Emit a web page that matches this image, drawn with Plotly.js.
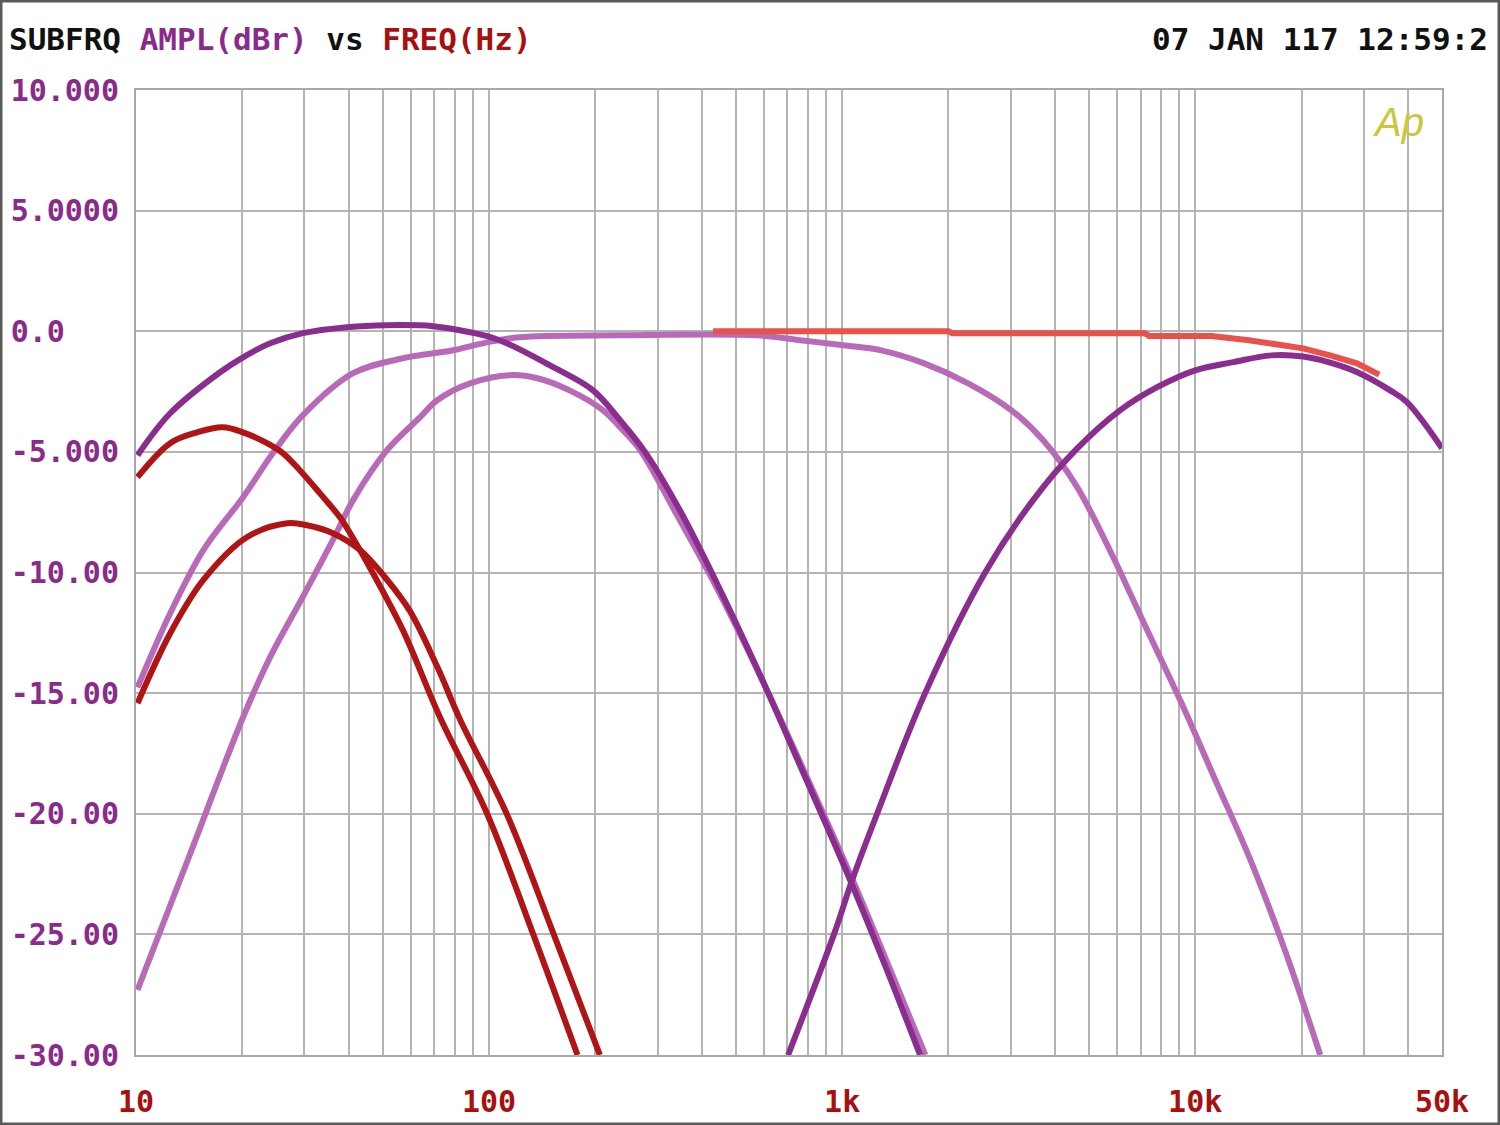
<!DOCTYPE html>
<html>
<head>
<meta charset="utf-8">
<script src="https://cdn.plot.ly/plotly-3.0.1.min.js"></script>
<style>
  html, body { margin: 0; padding: 0; background: #ffffff; }
  #chart { width: 1500px; height: 1125px; }
</style>
</head>
<body>
<div id="chart"></div>
<script>
// ---- Data (frequency in Hz, amplitude in dBr) ----
// Dark purple: wide band-pass (peak near 55 Hz)
const bandLowFreq = [10.1, 12.5, 17.3, 20.1, 24.0, 29.7, 39.6, 51.4, 69.4, 88.3, 107, 152, 197, 235, 277, 347, 437, 586, 760, 1054, 1324, 1663];
const bandLowAmpl = [-5.14, -3.40, -1.70, -1.08, -0.50, -0.08, 0.17, 0.25, 0.21, -0.04, -0.37, -1.49, -2.45, -3.69, -5.02, -7.42, -10.3, -14.26, -18.0, -22.76, -26.3, -30.0];

// Light orchid: narrow band-pass (peak near 120 Hz)
const bandMidFreq = [10.1, 14.2, 20.1, 24.0, 29.7, 36.1, 41.2, 51.4, 63.8, 71.3, 88.3, 115, 137, 169, 210, 235, 268, 340, 440, 600, 790, 1090, 1380, 1720];
const bandMidAmpl = [-27.3, -21.7, -16.0, -13.5, -11.0, -8.66, -7.0, -4.93, -3.56, -2.86, -2.16, -1.82, -1.95, -2.45, -3.27, -3.98, -4.93, -7.6, -10.6, -14.6, -18.4, -23.0, -26.6, -30.0];

// Light orchid: full range (high-pass at 10 Hz, low-pass near 2 kHz)
const fullFreq = [10.1, 12.5, 15.5, 20.1, 24.4, 29.7, 41.2, 57.0, 79.1, 98.6, 122, 235, 574, 760, 1007, 1290, 1707, 2274, 3011, 3710, 4603, 5740, 7210, 9070, 11400, 14320, 17990, 22600];
const fullAmpl = [-14.76, -11.69, -9.08, -6.88, -5.06, -3.48, -1.74, -1.12, -0.79, -0.46, -0.25, -0.17, -0.17, -0.37, -0.58, -0.79, -1.33, -2.16, -3.27, -4.52, -6.4, -9.1, -12.2, -15.3, -18.6, -21.9, -25.7, -30.0];

// Dark purple: high band (high-pass near 5 kHz)
const highFreq = [703, 948, 1067, 1256, 1718, 2541, 3475, 4603, 6095, 7803, 10000, 12820, 16420, 20220, 24100, 28770, 35650, 39840, 50000];
const highAmpl = [-30.0, -25.0, -22.76, -20.0, -15.0, -10.0, -7.0, -4.9, -3.3, -2.32, -1.62, -1.28, -1.0, -1.05, -1.3, -1.7, -2.45, -2.95, -4.85];

// Salmon red: reference (flat from 430 Hz)
const refFreq = [431, 2000, 2050, 7200, 7400, 11100, 14200, 17600, 20200, 24100, 28700, 33200];
const refAmpl = [0.0, 0.0, -0.08, -0.08, -0.2, -0.2, -0.37, -0.54, -0.71, -1.0, -1.33, -1.8];

// Dark red: subwoofer 1 (peak near 18 Hz)
const sub1Freq = [10.1, 12.5, 14.9, 17.6, 20.1, 23.5, 26.1, 29.1, 33.2, 37.8, 40.4, 46.9, 57.0, 72.6, 98.6, 133, 178];
const sub1Ampl = [-6.05, -4.64, -4.19, -3.98, -4.19, -4.64, -5.06, -5.76, -6.72, -7.71, -8.37, -10.03, -12.39, -16.0, -19.98, -24.95, -30.0];

// Dark red: subwoofer 2 (peak near 28 Hz)
const sub2Freq = [10.1, 12.5, 15.5, 20.6, 26.8, 30.5, 36.1, 43.2, 51.4, 59.7, 71.3, 82.8, 112, 152, 206];
const sub2Ampl = [-15.42, -12.52, -10.32, -8.54, -7.96, -8.04, -8.37, -9.08, -10.3, -11.6, -13.9, -16.1, -19.98, -24.95, -30.0];

// Axis ticks
const yTickVals = [10, 5, 0, -5, -10, -15, -20, -25, -30];
const yTickText = ['10.000', '5.0000', '0.0\u00a0\u00a0\u00a0', '-5.000', '-10.00', '-15.00', '-20.00', '-25.00', '-30.00'];
const xLabelVals = [10, 100, 1000, 10000, 50000];
const xLabelText = ['10', '100', '1k', '10k', '50k'];

// ---- Styling ----
const C_DPURPLE = '#8a2d8e';
const C_ORCHID = '#b86ab8';
const C_DRED = '#b01414';
const C_SALMON = '#e8524a';
const LW = 6;

// log grid positions 10..50k (1-9 per decade)
const xGridVals = [];
for (let d = 10; d <= 10000; d *= 10) {
  for (let m = 1; m <= 9; m++) xGridVals.push(d * m);
}
xGridVals.push(20000, 30000, 40000, 50000);
const xGridText = xGridVals.map(v => {
  const i = xLabelVals.indexOf(v);
  return i >= 0 ? xLabelText[i] : '';
});

function line(x, y, color, smooth) {
  return {
    x: x, y: y, type: 'scatter', mode: 'lines',
    line: { color: color, width: LW, shape: smooth === 0 ? 'linear' : 'spline', smoothing: smooth === undefined ? 1.0 : smooth },
    hoverinfo: 'skip'
  };
}

const traces = [
  line(fullFreq, fullAmpl, C_ORCHID),
  line(bandMidFreq, bandMidAmpl, C_ORCHID),
  line(bandLowFreq, bandLowAmpl, C_DPURPLE),
  line(highFreq, highAmpl, C_DPURPLE),
  line(refFreq, refAmpl, C_SALMON, 0),
  line(sub2Freq, sub2Ampl, C_DRED),
  line(sub1Freq, sub1Ampl, C_DRED)
];

const FONT = '"DejaVu Sans Mono", "Liberation Mono", monospace';
const plotW = 1500 - 136 - 58;
const plotH = 1125 - 90 - 70;

const layout = {
  width: 1500, height: 1125,
  margin: { l: 136, r: 58, t: 90, b: 70, pad: 0 },
  paper_bgcolor: '#ffffff', plot_bgcolor: '#ffffff',
  showlegend: false,
  font: { family: FONT },
  xaxis: {
    type: 'log', range: [1, Math.log10(50000)],
    tickmode: 'array', tickvals: xGridVals, ticktext: xGridText,
    ticks: '', ticklabelstandoff: 19,
    tickfont: { family: FONT, size: 30, color: '#a81010', weight: 'bold' },
    showgrid: true, gridcolor: '#b4b4b4', gridwidth: 2,
    showline: true, mirror: true, linecolor: '#a8a8a8', linewidth: 2,
    zeroline: false, fixedrange: true
  },
  yaxis: {
    range: [-30, 10],
    tickmode: 'array', tickvals: yTickVals, ticktext: yTickText,
    ticks: '', ticklabelstandoff: 9,
    tickfont: { family: FONT, size: 30, color: '#8a2a8a', weight: 'bold' },
    showgrid: true, gridcolor: '#b4b4b4', gridwidth: 2,
    showline: true, mirror: true, linecolor: '#a8a8a8', linewidth: 2,
    zeroline: false, fixedrange: true
  },
  shapes: [
    { // white patch behind the Ap logo hiding the top of the 30k/40k grid lines
      type: 'rect', xref: 'paper', yref: 'paper', layer: 'between',
      x0: (1340 - 136) / plotW, x1: (1436 - 136) / plotW,
      y0: (1055 - 155) / plotH, y1: 0.997,
      fillcolor: '#ffffff', line: { width: 0 }
    },
    { // outer frame of the picture
      type: 'rect', xref: 'paper', yref: 'paper', layer: 'above',
      x0: -136 / plotW, x1: (1500 - 136) / plotW,
      y0: -70 / plotH, y1: 1 + 90 / plotH,
      fillcolor: 'rgba(0,0,0,0)', line: { color: '#5a5a5a', width: 5 }
    }
  ],
  annotations: [
    {
      xref: 'paper', yref: 'paper', x: (7 - 136) / plotW, y: 1 + (90 - 39) / plotH,
      xanchor: 'left', yanchor: 'middle', showarrow: false,
      font: { family: FONT, size: 31, color: '#111111', weight: 'bold' },
      text: 'SUBFRQ <span style="color:#8a2a8a">AMPL(dBr)</span> vs <span style="color:#a81010">FREQ(Hz)</span>'
    },
    {
      xref: 'paper', yref: 'paper', x: (1490 - 136) / plotW, y: 1 + (90 - 39) / plotH,
      xanchor: 'right', yanchor: 'middle', showarrow: false,
      font: { family: FONT, size: 31, color: '#111111', weight: 'bold' },
      text: '07 JAN 117 12:59:2'
    },
    {
      xref: 'paper', yref: 'paper', x: (1398 - 136) / plotW, y: (1055 - 122) / plotH,
      xanchor: 'center', yanchor: 'middle', showarrow: false,
      font: { family: '"Liberation Sans", Arial, sans-serif', size: 40, color: '#c8c83a', style: 'italic' },
      text: 'Ap'
    }
  ]
};

Plotly.newPlot('chart', traces, layout, { staticPlot: true, displayModeBar: false });
</script>
</body>
</html>
